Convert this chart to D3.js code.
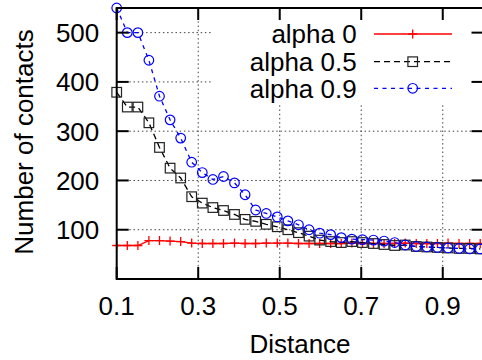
<!DOCTYPE html>
<html><head><meta charset="utf-8">
<script src="https://cdn.jsdelivr.net/npm/d3@7"></script>
<style>body{margin:0;background:#fff}svg{display:block}text{font-family:"Liberation Sans",Arial,sans-serif;fill:#000}</style>
</head><body><svg id="c" width="482" height="360"></svg>
<script>
const distances = [0.100,0.126,0.152,0.179,0.205,0.231,0.257,0.284,0.310,0.336,0.362,0.389,0.415,0.441,0.467,0.494,0.520,0.546,0.572,0.598,0.625,0.651,0.677,0.703,0.730,0.756,0.782,0.808,0.835,0.861,0.887,0.913,0.940,0.966,0.992];
const alpha0  = [68,68,68,78,78,77,76,73,72,72,72,73,72,72,73,73,73,72,72,72,72,72,73,72,72,72,72,73,72,72,72,73,72,72,72];
const alpha05 = [379,349,349,317,267,225,205,167,154,145,139,131,121,117,111,106,100,94,87,79,76,74,76,74,72,70,68,69,66,65,64,63,62,62,61];
const alpha09 = [550,500,500,444,371,323,286,237,216,202,208,195,171,140,133,126,118,110,100,93,90,84,81,80,79,77,74,69,66,65,64,63,62,61,61];
const xTicks = [0.1,0.3,0.5,0.7,0.9];
const yTicks = [100,200,300,400,500];
const seriesNames = ["alpha 0","alpha 0.5","alpha 0.9"];

const svg = d3.select("#c");
const L=116.7, R=483.5, T=8, B=279;
const x = d3.scaleLinear().domain([0.1,1.0]).range([L,R]);
const y = d3.scaleLinear().domain([0,550]).range([B,T]);
const FS = 26;

// grid
const grid = svg.append("g").attr("stroke","#444").attr("stroke-width",1).attr("stroke-dasharray","1.5,2.7");
yTicks.forEach(t=>grid.append("line").attr("x1",L).attr("x2",R).attr("y1",y(t)).attr("y2",y(t)));
xTicks.slice(1).forEach(t=>grid.append("line").attr("x1",x(t)).attr("x2",x(t)).attr("y1",B).attr("y2",T));

// legend background (opaque key)
svg.append("rect").attr("x",213).attr("y",21).attr("width",R-213).attr("height",82).attr("fill","#fff");

const series = [
  {name:seriesNames[0], v:alpha0, color:"#ff0000", dash:null, marker:"plus"},
  {name:seriesNames[1], v:alpha05, color:"#000000", dash:"6,4", marker:"square"},
  {name:seriesNames[2], v:alpha09, color:"#0000ff", dash:"4,4.5", marker:"circle"}
];
const line = d3.line().x(d=>x(d[0])).y(d=>y(d[1]));
function drawMarker(g, type, cx, cy, color){
  if(type==="plus"){
    g.append("path").attr("d",`M${cx-4.5},${cy}H${cx+4.5}M${cx},${cy-4.5}V${cy+4.5}`).attr("stroke",color).attr("stroke-width",1.3).attr("fill","none");
  } else if(type==="square"){
    g.append("rect").attr("x",cx-4.8).attr("y",cy-4.8).attr("width",9.6).attr("height",9.6).attr("stroke","#222").attr("stroke-width",1.2).attr("fill","none");
  } else {
    g.append("circle").attr("cx",cx).attr("cy",cy).attr("r",4.8).attr("stroke",color).attr("stroke-width",1.2).attr("fill","none");
  }
}
const dataG = svg.append("g");
[0,1,2].forEach(i=>{
  const s = series[i];
  const pts = distances.map((d,j)=>[d,s.v[j]]);
  dataG.append("path").datum(pts).attr("d",line).attr("fill","none").attr("stroke",s.color).attr("stroke-width",1.3).attr("stroke-dasharray",s.dash);
  pts.forEach(p=>drawMarker(dataG,s.marker,x(p[0]),y(p[1]),s.color));
});

// legend
const rowY=[34,61.7,88.3];
series.forEach((s,i)=>{
  svg.append("text").attr("x",356.7).attr("y",rowY[i]+FS*0.36).attr("text-anchor","end").attr("font-size",FS).text(s.name);
  svg.append("line").attr("x1",374).attr("x2",452).attr("y1",rowY[i]).attr("y2",rowY[i]).attr("stroke",s.color).attr("stroke-width",1.3).attr("stroke-dasharray",s.dash);
  drawMarker(svg,s.marker,412.7,rowY[i],s.color);
});

// border and ticks
const ax = svg.append("g").attr("stroke","#000").attr("stroke-width",2).attr("fill","none");
ax.append("rect").attr("x",L).attr("y",T).attr("width",R-L).attr("height",B-T);
yTicks.forEach(t=>{
  ax.append("line").attr("x1",L).attr("x2",L+12).attr("y1",y(t)).attr("y2",y(t));
  ax.append("line").attr("x1",R-12).attr("x2",R).attr("y1",y(t)).attr("y2",y(t));
});
xTicks.forEach(t=>{
  ax.append("line").attr("x1",x(t)).attr("x2",x(t)).attr("y1",B).attr("y2",B-12);
  ax.append("line").attr("x1",x(t)).attr("x2",x(t)).attr("y1",T).attr("y2",T+12);
});

// tick labels
yTicks.forEach(t=>svg.append("text").attr("x",99.3).attr("y",y(t)+FS*0.36).attr("text-anchor","end").attr("font-size",FS).text(t));
xTicks.forEach(t=>svg.append("text").attr("x",x(t)).attr("y",315).attr("text-anchor","middle").attr("font-size",FS).text(d3.format(".1f")(t)));

svg.append("text").attr("x",300).attr("y",353).attr("text-anchor","middle").attr("font-size",FS).text("Distance");
svg.append("text").attr("transform","translate(33,142) rotate(-90)").attr("text-anchor","middle").attr("font-size",FS).text("Number of contacts");
</script></body></html>
